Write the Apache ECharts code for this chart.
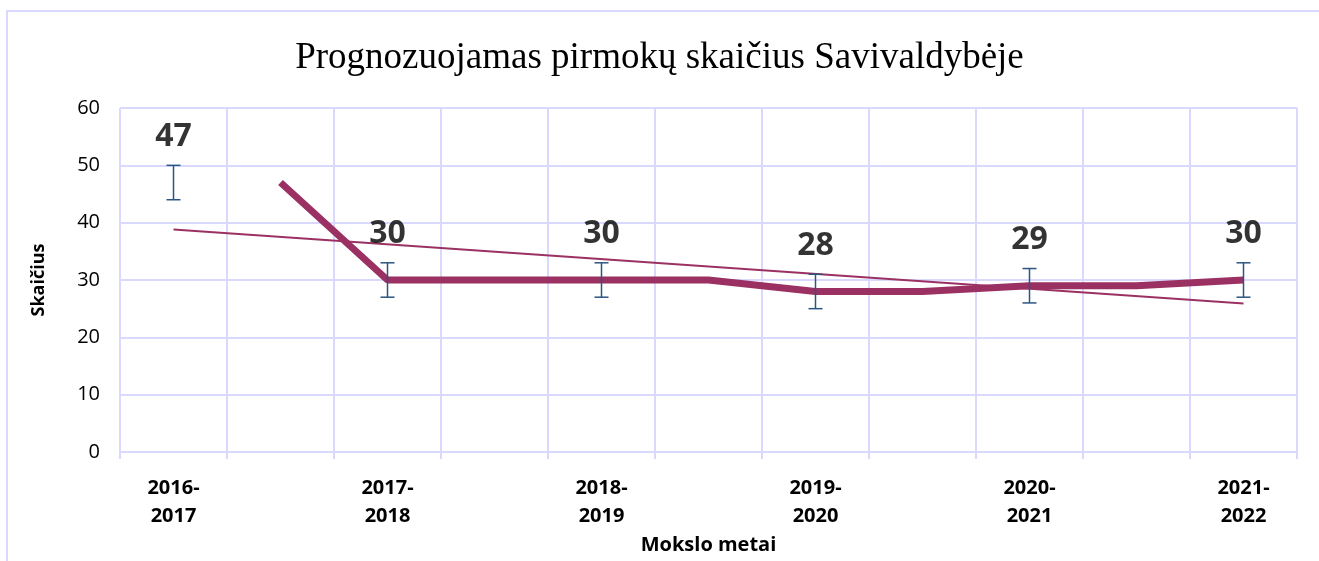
<!DOCTYPE html>
<html>
<head>
<meta charset="utf-8">
<title>Prognozuojamas pirmokų skaičius</title>
<script src="https://cdn.jsdelivr.net/npm/echarts@6/dist/echarts.min.js"></script>
<style>
  html, body { margin: 0; padding: 0; background: #fff; }
  #chart { width: 1319px; height: 561px; }
</style>
</head>
<body>
<div id="chart"></div>
<script>
// kategorijos: kas antra stulpelio vieta be pavadinimo (kaip Excel)
const categories = ['2016-\n2017', '', '2017-\n2018', '', '2018-\n2019', '', '2019-\n2020', '', '2020-\n2021', '', '2021-\n2022']

// stora linija (prognozė)
const forecast = [null, 47, 30, 30, 30, 30, 28, 28, 29, 29, 30]
// taškai su reikšmėmis ir paklaidomis
const pointValues = [47, null, 30, null, 30, null, 28, null, 29, null, 30]
const errLow = [44, null, 27, null, 27, null, 25, null, 26, null, 27]
const errHigh = [50, null, 33, null, 33, null, 31, null, 32, null, 33]
// tendencijos linija (nuskaityta nuo paveikslo)
const trend = [38.8, null, null, null, null, null, null, null, null, null, 25.9]

const yTicks = { min: 0, max: 60, interval: 10 }

const lineColor = '#9b3162'
const gridColor = '#d9d9ff'
const errColor = '#2c5682'

const chart = echarts.init(document.getElementById('chart'))

const errData = categories.map((c, i) => [i, errLow[i], errHigh[i]]).filter(d => d[1] !== null)

const option = {
  animation: false,
  textStyle: { fontFamily: 'Open Sans' },
  title: {
    text: 'Prognozuojamas pirmokų skaičius Savivaldybėje',
    left: 'center',
    top: 35,
    textStyle: { fontFamily: 'Liberation Serif', fontSize: 37, fontWeight: 'normal', color: '#000' }
  },
  graphic: [{
    type: 'polyline',
    shape: { points: [[7, 561], [7, 11], [1319, 11]] },
    style: { stroke: gridColor, lineWidth: 2, fill: null }
  }],
  grid: { left: 120, right: 22, top: 108, bottom: 109 },
  xAxis: {
    type: 'category',
    data: categories,
    boundaryGap: true,
    name: 'Mokslo metai',
    nameLocation: 'middle',
    nameGap: 83,
    nameTextStyle: { fontSize: 20, fontWeight: 'bold', color: '#000' },
    axisLine: { lineStyle: { color: gridColor, width: 2 } },
    axisTick: { show: true, interval: 0, length: 7, lineStyle: { color: gridColor, width: 2 } },
    splitLine: { show: true, interval: 0, lineStyle: { color: gridColor, width: 2 } },
    axisLabel: { interval: 0, margin: 22, fontSize: 20, fontWeight: 'bold', color: '#000', lineHeight: 28 }
  },
  yAxis: {
    type: 'value',
    min: yTicks.min,
    max: yTicks.max,
    interval: yTicks.interval,
    name: 'Skaičius',
    nameLocation: 'middle',
    nameGap: 72,
    nameTextStyle: { fontSize: 18, fontWeight: 'bold', color: '#000' },
    axisLine: { show: false },
    axisTick: { show: false },
    splitLine: { lineStyle: { color: gridColor, width: 2 } },
    axisLabel: { margin: 20, fontSize: 20, color: '#000' }
  },
  series: [
    {
      name: 'Tendencija',
      type: 'line',
      data: trend,
      connectNulls: true,
      symbol: 'none',
      z: 3,
      lineStyle: { color: lineColor, width: 2 }
    },
    {
      name: 'Prognozė',
      type: 'line',
      data: forecast,
      symbol: 'none',
      z: 2,
      lineStyle: { color: lineColor, width: 7 }
    },
    {
      name: 'Paklaidos',
      type: 'custom',
      z: 4,
      data: errData,
      renderItem: (params, api) => {
        const lo = api.coord([api.value(0), api.value(1)])
        const hi = api.coord([api.value(0), api.value(2)])
        const half = 7
        const style = { stroke: errColor, lineWidth: 1.5 }
        return {
          type: 'group',
          children: [
            { type: 'line', shape: { x1: lo[0], y1: lo[1], x2: hi[0], y2: hi[1] }, style },
            { type: 'line', shape: { x1: lo[0] - half, y1: lo[1], x2: lo[0] + half, y2: lo[1] }, style },
            { type: 'line', shape: { x1: hi[0] - half, y1: hi[1], x2: hi[0] + half, y2: hi[1] }, style }
          ]
        }
      }
    },
    {
      name: 'Reikšmės',
      type: 'scatter',
      data: pointValues,
      symbolSize: 0,
      z: 5,
      label: {
        show: true,
        position: 'top',
        distance: 30,
        fontSize: 32,
        fontWeight: 'bold',
        color: '#000'
      }
    }
  ]
}

chart.setOption(option)
</script>
</body>
</html>
